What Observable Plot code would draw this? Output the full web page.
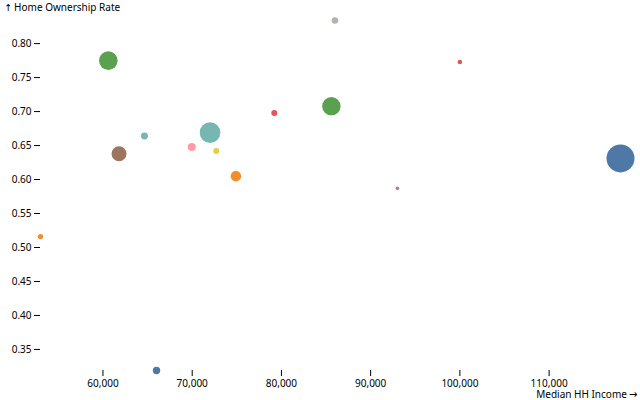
<!DOCTYPE html>
<html>
<head>
<meta charset="utf-8">
<script src="https://cdn.jsdelivr.net/npm/d3@7"></script>
<script src="https://cdn.jsdelivr.net/npm/@observablehq/plot@0.6"></script>
<style>
  @font-face {
    font-family: "ArrowGlyphs";
    src: local("DejaVu Sans");
    unicode-range: U+2190-2193;
  }
  body { margin: 0; background: #fff; }
</style>
</head>
<body>
<div id="chart"></div>
<script>
// Categories (sorted order determines the tableau10 colour cycle)
const areas = ["A01","A02","A03","A04","A05","A06","A07","A08","A09","A10","A11","A12","A13","A14","A15"];
const medianIncome = [118000, 53000, 79200, 64650, 60600, 72700, 93000, 69950, 61800, 86000, 66000, 74900, 100000, 72000, 85600];
const ownershipRate = [0.631, 0.516, 0.698, 0.664, 0.775, 0.642, 0.587, 0.648, 0.638, 0.834, 0.319, 0.605, 0.773, 0.669, 0.708];
const households = [1960, 73, 90, 122, 865, 90, 32, 160, 560, 109, 137, 280, 53, 1060, 846];

const data = areas.map((a, i) => ({
  area: a,
  income: medianIncome[i],
  rate: ownershipRate[i],
  size: households[i]
}));

const chart = Plot.plot({
  width: 640,
  height: 400,
  marginLeft: 40,
  marginRight: 20,
  marginTop: 20,
  marginBottom: 30,
  style: {fontFamily: "ArrowGlyphs, 'Noto Sans', 'DejaVu Sans', sans-serif", fontSize: "10px"},
  x: {label: "Median HH Income"},
  y: {label: "Home Ownership Rate"},
  r: {range: [0, 14]},
  color: {type: "ordinal", scheme: "tableau10", domain: areas},
  marks: [
    Plot.dot(data, {x: "income", y: "rate", r: "size", fill: "area"})
  ]
});
document.getElementById("chart").append(chart);
</script>
</body>
</html>
